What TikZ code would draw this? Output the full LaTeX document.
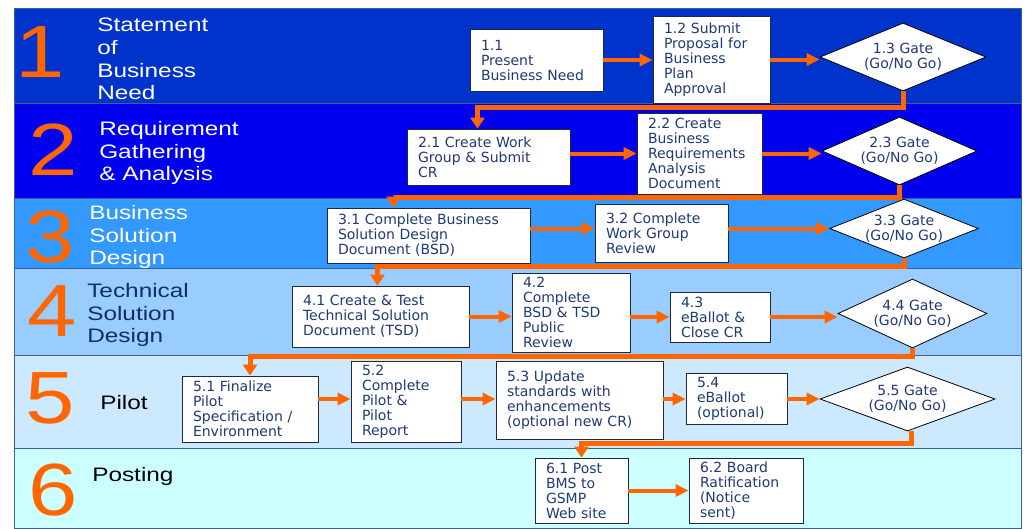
\documentclass[tikz,border=0pt]{standalone}
\usepackage{fontspec}
\usepackage{tikz}
\usetikzlibrary{arrows.meta,shapes.geometric,calc}
\newfontfamily\boxfont{DejaVu Sans}
\newfontfamily\stagefont{Liberation Sans}
\definecolor{bandA}{HTML}{0033CC}
\definecolor{bandB}{HTML}{0000EE}
\definecolor{bandC}{HTML}{3399FF}
\definecolor{bandD}{HTML}{99CCFF}
\definecolor{bandE}{HTML}{CCE9FF}
\definecolor{bandF}{HTML}{CCFFFF}
\definecolor{bandline}{HTML}{3D5F99}
\definecolor{flowor}{HTML}{FF6600}
\definecolor{boxtext}{HTML}{1F3A75}
\definecolor{boxline}{HTML}{202840}
\definecolor{navylabel}{HTML}{0F2D66}

\begin{document}
\begin{tikzpicture}[x=1pt,y=-1pt,
  stepbox/.style 2 args={draw=boxline,line width=0.8pt,fill=white,text=boxtext,
    font=\boxfont\fontsize{14}{15}\selectfont,align=left,inner xsep=11pt,inner ysep=2pt,
    minimum width=#1,minimum height=#2,text width=#1-22},
  gate/.style 2 args={diamond,aspect=2.6,draw=black,line width=0.8pt,fill=white,text=boxtext,
    font=\boxfont\fontsize{14}{15}\selectfont,align=center,inner sep=0pt,
    minimum width=#1,minimum height=#2},
  flow/.style={draw=flowor,line width=4pt,-{Triangle[length=13pt,width=12pt]}},
  link/.style={draw=flowor,line width=5pt,-{Triangle[length=11pt,width=14pt]}},
  band/.style={draw=bandline,line width=1pt},
  stagenum/.style={text=flowor,font=\stagefont\fontsize{74}{74}\selectfont,xscale=1.2,inner sep=0pt},
  stagename/.style={font=\stagefont\fontsize{19.5}{22.7}\selectfont,xscale=1.25,align=left,inner sep=0pt,anchor=north west}]
\useasboundingbox (0,0) rectangle (1028,528);

% stage bands
\filldraw[band,fill=bandA] (14,8) rectangle (1021,103);
\filldraw[band,fill=bandB] (14,103) rectangle (1021,198);
\filldraw[band,fill=bandC] (14,198) rectangle (1021,268);
\filldraw[band,fill=bandD] (14,268) rectangle (1021,355);
\filldraw[band,fill=bandE] (14,355) rectangle (1021,448);
\filldraw[band,fill=bandF] (14,448) rectangle (1021,528);

\node[stagenum] (n1) at (40,52) {1};
\node[stagenum] (n2) at (53,150) {2};
\node[stagenum] (n3) at (50,237) {3};
\node[stagenum] (n4) at (52,311) {4};
\node[stagenum] (n5) at (50,398) {5};
\node[stagenum] (n6) at (53,490) {6};

\node[stagename,text=white] (s1) at (97,18) {Statement\\of\\Business\\Need};
\node[stagename,text=white] (s2) at (99,121) {Requirement\\Gathering\\\& Analysis};
\node[stagename,text=white] (s3) at (89,205) {Business\\Solution\\Design};
\node[stagename,text=navylabel] (s4) at (87,283) {Technical\\Solution\\Design};
\node[stagename,text=black] (s5) at (100,395) {Pilot};
\node[stagename,text=black] (s6) at (92,467) {Posting};

% steps
\node[stepbox={133}{62}] (b11) at (536.5,60) {1.1\\Present\\Business Need};
\node[stepbox={117}{87}] (b12) at (711.5,59.5) {1.2 Submit\\Proposal for\\Business\\Plan\\Approval};
\node[gate={166}{68}] (g13) at (903,57) {1.3 Gate\\(Go/No Go)};

\node[stepbox={163}{56}] (b21) at (488.5,157) {2.1 Create Work\\Group \& Submit\\CR};
\node[stepbox={125}{81}] (b22) at (699.5,153.5) {2.2 Create\\Business\\Requirements\\Analysis\\Document};
\node[gate={155}{68}] (g23) at (899.5,151) {2.3 Gate\\(Go/No Go)};

\node[stepbox={203}{55}] (b31) at (428.5,235.5) {3.1 Complete Business\\Solution Design\\Document (BSD)};
\node[stepbox={133}{58}] (b32) at (661.5,233) {3.2 Complete\\Work Group\\Review};
\node[gate={148}{59}] (g33) at (904,228.5) {3.3 Gate\\(Go/No Go)};

\node[stepbox={177}{61}] (b41) at (380.5,316.5) {4.1 Create \& Test\\Technical Solution\\Document (TSD)};
\node[stepbox={118}{79}] (b42) at (571,312.5) {4.2\\Complete\\BSD \& TSD\\Public\\Review};
\node[stepbox={100}{50}] (b43) at (720,317) {4.3\\eBallot \&\\Close CR};
\node[gate={149}{69}] (g44) at (912.5,313.5) {4.4 Gate\\(Go/No Go)};

\node[stepbox={136}{66}] (b51) at (250,409) {5.1 Finalize\\Pilot\\Specification /\\Environment};
\node[stepbox={110}{81}] (b52) at (406,401.5) {5.2\\Complete\\Pilot \&\\Pilot\\Report};
\node[stepbox={167}{78}] (b53) at (579.5,400) {5.3 Update\\standards with\\enhancements\\(optional new CR)};
\node[stepbox={101}{51}] (b54) at (736.5,398.5) {5.4\\eBallot\\(optional)};
\node[gate={175}{64}] (g55) at (907.5,399) {5.5 Gate\\(Go/No Go)};

\node[stepbox={93}{65}] (b61) at (581.5,490.5) {6.1 Post\\BMS to\\GSMP\\Web site};
\node[stepbox={114}{65}] (b62) at (746,490.5) {6.2 Board\\Ratification\\(Notice\\sent)};

% arrows within a stage
\draw[flow] (b11.east) -- (b11.east -| b12.west);
\draw[flow] (b12.east) -- (b12.east -| g13.west);
\draw[flow] (b21.east |- b22.west) -- (b22.west);
\draw[flow] (b22.east) -- (b22.east -| g23.west);
\draw[flow] (b31.east |- g33.west) -- (b32.west |- g33.west);
\draw[flow] (b32.east |- g33.west) -- (g33.west);
\draw[flow] (b41.east) -- (b41.east -| b42.west);
\draw[flow] (b42.east |- b43.west) -- (b43.west);
\draw[flow] (b43.east) -- (b43.east -| g44.west);
\draw[flow] (b51.east |- g55.west) -- (b52.west |- g55.west);
\draw[flow] (b52.east |- g55.west) -- (b53.west |- g55.west);
\draw[flow] (b53.east |- g55.west) -- (b54.west |- g55.west);
\draw[flow] (b54.east |- g55.west) -- (g55.west);
\draw[flow] (b61.east) -- (b61.east -| b62.west);

% arrows between stages
\draw[link] (g13.south) -- ++(0,16) -| ([xshift=-11pt]b21.north);
\draw[link] (g23.south) -- ++(0,12) -| ([xshift=-35pt]b31.north);
\draw[link] (g33.south) -- ++(0,8) -| ([xshift=-3pt]b41.north);
\draw[link] (g44.south) -- ++(0,8) -| (b51.north);
\draw[link] ([xshift=4pt]g55.south) -- ++(0,12) -| (b61.north);
\end{tikzpicture}
\end{document}
